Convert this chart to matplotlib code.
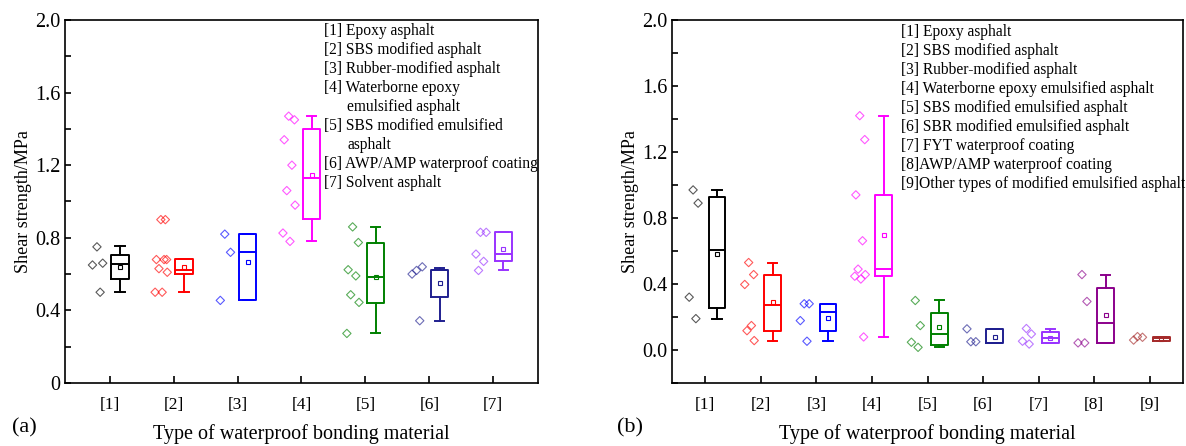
import matplotlib
matplotlib.use('Agg')
import matplotlib.pyplot as plt
from matplotlib.ticker import MultipleLocator, FixedLocator

plt.rcParams['font.family'] = ['Liberation Serif', 'DejaVu Serif']
plt.rcParams['mathtext.fontset'] = 'stix'

# ---- panel (a): seven binder types ----
labels_a = ['[1]', '[2]', '[3]', '[4]', '[5]', '[6]', '[7]']
colors_a = ['black', '#ff0000', '#0000ff', '#ff00ff', '#008000', '#1f1f8f', '#9933ff']
points_a = [
    [0.75, 0.66, 0.65, 0.50],
    [0.90, 0.68, 0.68, 0.68, 0.63, 0.61, 0.50, 0.50, 0.90],
    [0.82, 0.72, 0.455],
    [1.47, 1.45, 1.34, 1.20, 1.06, 0.98, 0.826, 0.78],
    [0.86, 0.774, 0.624, 0.59, 0.486, 0.444, 0.273],
    [0.62, 0.64, 0.60, 0.343],
    [0.83, 0.83, 0.71, 0.67, 0.62],
]
q1_a = [0.572, 0.600, 0.455, 0.903, 0.440, 0.472, 0.673]
med_a = [0.655, 0.620, 0.720, 1.130, 0.583, 0.620, 0.712]
q3_a = [0.706, 0.683, 0.820, 1.400, 0.770, 0.624, 0.830]
lo_a = [0.500, 0.500, 0.455, 0.783, 0.273, 0.343, 0.620]
hi_a = [0.752, 0.683, 0.820, 1.470, 0.860, 0.631, 0.830]
mean_a = [0.640, 0.640, 0.666, 1.147, 0.585, 0.550, 0.738]
legend_a = [
    '[1] Epoxy asphalt',
    '[2] SBS modified asphalt',
    '[3] Rubber-modified asphalt',
    '[4] Waterborne epoxy\nemulsified asphalt',
    '[5] SBS modified emulsified\nasphalt',
    '[6] AWP/AMP waterproof coating',
    '[7] Solvent asphalt',
]

# ---- panel (b): nine binder types ----
labels_b = ['[1]', '[2]', '[3]', '[4]', '[5]', '[6]', '[7]', '[8]', '[9]']
colors_b = ['black', '#ff0000', '#0000ff', '#ff00ff', '#008000', '#1f1f8f',
            '#9933ff', '#8b008b', '#a52a2a']
points_b = [
    [0.97, 0.89, 0.32, 0.19],
    [0.53, 0.457, 0.397, 0.148, 0.117, 0.057],
    [0.28, 0.28, 0.178, 0.053],
    [1.42, 1.275, 0.94, 0.662, 0.49, 0.457, 0.447, 0.43, 0.079],
    [0.30, 0.148, 0.047, 0.016],
    [0.05, 0.05, 0.128],
    [0.13, 0.097, 0.053, 0.036],
    [0.457, 0.294, 0.043, 0.043],
    [0.081, 0.077, 0.060],
]
q1_b = [0.255, 0.117, 0.113, 0.449, 0.030, 0.043, 0.043, 0.043, 0.057]
med_b = [0.607, 0.275, 0.229, 0.490, 0.097, 0.043, 0.073, 0.166, 0.071]
q3_b = [0.927, 0.457, 0.280, 0.940, 0.223, 0.128, 0.110, 0.377, 0.081]
lo_b = [0.188, 0.057, 0.057, 0.079, 0.020, 0.043, 0.043, 0.043, 0.057]
hi_b = [0.972, 0.530, 0.280, 1.420, 0.300, 0.128, 0.130, 0.457, 0.081]
mean_b = [0.583, 0.290, 0.194, 0.698, 0.138, 0.077, 0.073, 0.213, 0.069]
legend_b = [
    '[1] Epoxy asphalt',
    '[2] SBS modified asphalt',
    '[3] Rubber-modified asphalt',
    '[4] Waterborne epoxy emulsified asphalt',
    '[5] SBS modified emulsified asphalt',
    '[6] SBR modified emulsified asphalt',
    '[7] FYT waterproof coating',
    '[8]AWP/AMP waterproof coating',
    '[9]Other types of modified emulsified asphalt',
]

jitter = [0.0, 0.09, -0.07, 0.05, -0.03, 0.10, -0.09, 0.02, 0.07]


def draw_panel(ax, labels, colors, points, q1, med, q3, lo, hi, mean,
               box_shift, box_w, pt_shift):
    for i, c in enumerate(colors):
        pos = i + 1
        stats = [dict(med=med[i], q1=q1[i], q3=q3[i], whislo=lo[i],
                      whishi=hi[i], mean=mean[i], fliers=[])]
        ax.bxp(stats, positions=[pos + box_shift], widths=box_w,
               capwidths=box_w * 0.55, showmeans=True, showfliers=False,
               boxprops=dict(color=c, lw=1.4),
               medianprops=dict(color=c, lw=1.4),
               whiskerprops=dict(color=c, lw=1.4),
               capprops=dict(color=c, lw=1.4),
               meanprops=dict(marker='s', markersize=3.5, markerfacecolor='none',
                              markeredgecolor=c, markeredgewidth=0.8))
        xs = [pos + pt_shift + jitter[k % len(jitter)] for k in range(len(points[i]))]
        ax.scatter(xs, points[i], marker='D', s=18, facecolors='none',
                   edgecolors=c, linewidths=0.8, alpha=0.65, zorder=3)
    ax.set_xticks(range(1, len(labels) + 1))
    ax.set_xticklabels(labels, fontsize=12.5)
    ax.tick_params(axis='x', direction='in', length=5, width=1.2, pad=10)
    ax.tick_params(axis='y', which='both', direction='in', length=4, width=1.2,
                   labelsize=14.5)
    ax.yaxis.set_minor_locator(MultipleLocator(0.2))
    for s in ax.spines.values():
        s.set_linewidth(1.2)
    ax.set_xlabel('Type of waterproof bonding material', fontsize=14.5, labelpad=8)
    ax.set_ylabel('Shear strength/MPa', fontsize=13, labelpad=2)


def draw_key(ax, entries, x0, indent, y0, step, size):
    row = 0
    for entry in entries:
        for j, line in enumerate(entry.split('\n')):
            ax.text(x0 + (indent if j else 0), y0 - row * step, line,
                    transform=ax.transAxes, fontsize=size, ha='left', va='top',
                    clip_on=False)
            row += 1


fig = plt.figure(figsize=(11.86, 4.46), dpi=100)
ax_a = fig.add_axes([0.0548, 0.1413, 0.3988, 0.8139])
ax_b = fig.add_axes([0.5666, 0.1413, 0.4309, 0.8139])

draw_panel(ax_a, labels_a, colors_a, points_a, q1_a, med_a, q3_a, lo_a, hi_a,
           mean_a, 0.16, 0.27, -0.2)
ax_a.set_xlim(0.3, 7.7)
ax_a.set_ylim(0, 2.0)
ax_a.yaxis.set_major_locator(FixedLocator([0, 0.4, 0.8, 1.2, 1.6, 2.0]))
ax_a.set_yticklabels(['0', '0.4', '0.8', '1.2', '1.6', '2.0'])
draw_key(ax_a, legend_a, 0.548, 0.049, 0.992, 0.0525, 11.2)

draw_panel(ax_b, labels_b, colors_b, points_b, q1_b, med_b, q3_b, lo_b, hi_b,
           mean_b, 0.21, 0.30, -0.22)
ax_b.set_xlim(0.4, 9.6)
ax_b.set_ylim(-0.2, 2.0)
ax_b.yaxis.set_major_locator(FixedLocator([0, 0.4, 0.8, 1.2, 1.6, 2.0]))
ax_b.set_yticklabels(['0.0', '0.4', '0.8', '1.2', '1.6', '2.0'])
draw_key(ax_b, legend_b, 0.4475, 0.0, 0.99, 0.0525, 11.2)

fig.text(0.01, 0.04, '(a)', fontsize=16, ha='left', va='center')
fig.text(0.52, 0.04, '(b)', fontsize=16, ha='left', va='center')

fig.savefig('out.png', dpi=100)
